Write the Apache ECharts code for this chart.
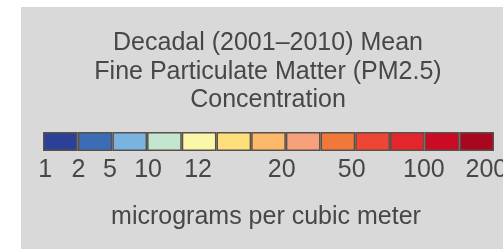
<!DOCTYPE html>
<html>
<head>
<meta charset="utf-8">
<script src="https://cdn.jsdelivr.net/npm/echarts@6/dist/echarts.min.js"></script>
<style>
html,body{margin:0;padding:0;background:#ffffff;}
#chart{width:503px;height:249px;}
</style>
</head>
<body>
<div id="chart"></div>
<script>
// Data
var titleLines = ['Decadal (2001\u20132010) Mean', 'Fine Particulate Matter (PM2.5)', 'Concentration'];
var unitText = 'micrograms per cubic meter';
var binColors = ['#2b4198', '#3b6cb6', '#79b4e1', '#c4e5cf', '#fbf7a9', '#fde07b', '#fcb86b', '#f7a07c', '#ef783a', '#ee4535', '#e2262b', '#cb0b25', '#a8071f'];
var binValues = [1, 1, 1, 1, 1, 1, 1, 1, 1, 1, 1, 1, 1];
var tickLabels = ['1', '2', '5', '10', '12', '20', '50', '100', '200'];
var tickPositions = [0.06, 1.02, 1.93, 3.03, 4.47, 6.88, 8.9, 10.98, 12.78];

var chart = echarts.init(document.getElementById('chart'), null, {renderer: 'canvas'});
var FONT = '"Liberation Sans", Arial, sans-serif';
var TXT = '#474747';

function labelFor(v) {
  var best = 0, bd = Infinity;
  for (var i = 0; i < tickPositions.length; i++) {
    var d = Math.abs(tickPositions[i] - v);
    if (d < bd) { bd = d; best = i; }
  }
  return tickLabels[best];
}

var option = {
  backgroundColor: '#ffffff',
  animation: false,
  graphic: [{
    type: 'rect', z: -10, silent: true,
    shape: {x: 21, y: 7, width: 490, height: 250},
    style: {fill: '#d9d9d9'}
  }],
  title: [{
    text: titleLines.join('\n'),
    left: 268, top: 29, padding: 0,
    textAlign: 'center',
    textStyle: {fontFamily: FONT, fontSize: 25, fontWeight: 'normal', color: TXT, lineHeight: 28.5}
  }, {
    text: unitText,
    left: 266, top: 203, padding: 0,
    textAlign: 'center',
    textStyle: {fontFamily: FONT, fontSize: 25, fontWeight: 'normal', color: TXT, lineHeight: 28}
  }],
  grid: {left: 43, width: 451, top: 132, height: 19, containLabel: false, outerBoundsMode: 'none'},
  xAxis: [{
    type: 'category',
    data: binColors.map(function (c, i) { return 'bin' + i; }),
    boundaryGap: true,
    axisLine: {show: false}, axisTick: {show: false}, axisLabel: {show: false}, splitLine: {show: false}
  }, {
    type: 'value', min: 0, max: 13, position: 'bottom',
    axisLine: {show: false}, axisTick: {show: false}, splitLine: {show: false},
    axisLabel: {
      show: true,
      customValues: tickPositions,
      formatter: function (v) { return labelFor(v); },
      margin: 7,
      fontFamily: FONT, fontSize: 25, color: TXT, lineHeight: 25
    }
  }],
  yAxis: {type: 'value', min: 0, max: 1, show: false},
  series: [{
    type: 'bar',
    xAxisIndex: 0,
    barCategoryGap: '0%',
    data: binValues.map(function (v, i) {
      return {value: v, itemStyle: {color: binColors[i]}};
    }),
    itemStyle: {borderColor: '#5a5048', borderWidth: 1.5},
    silent: true
  }]
};
chart.setOption(option);
</script>
</body>
</html>
